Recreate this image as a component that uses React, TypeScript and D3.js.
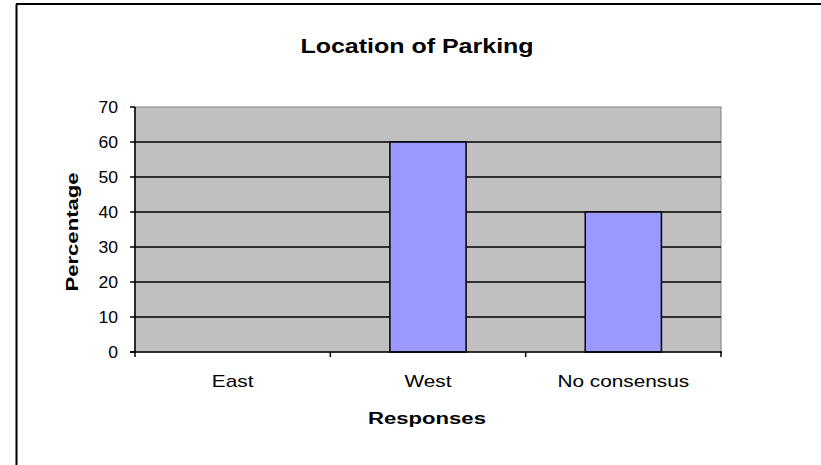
import React from "react";
import * as d3 from "d3";

const categories = ["East", "West", "No consensus"];
const values = [0, 60, 40];
const yTicks = [0, 10, 20, 30, 40, 50, 60, 70];
const title = "Location of Parking";
const xTitle = "Responses";
const yTitle = "Percentage";

const font = "'Liberation Sans', Arial, sans-serif";

function SText(props: { x: number; y: number; sx: number; size: number; bold?: boolean; anchor?: string; rotate?: number; children: React.ReactNode }) {
  const { x, y, sx, size, bold, anchor = "middle", rotate = 0, children } = props;
  return (
    <text transform={`translate(${x},${y}) rotate(${rotate}) scale(${sx},1)`} textAnchor={anchor}
      fontFamily={font} fontWeight={bold ? "bold" : "normal"} fontSize={size}>{children}</text>
  );
}

export default function App() {
  const W = 821, H = 465;
  const left = 135, right = 721, top = 107, bottom = 352;
  const x = d3.scaleBand<string>().domain(categories).range([left, right]).paddingInner(0).paddingOuter(0);
  const y = d3.scaleLinear().domain([0, 70]).range([bottom, top]);
  const barW = x.bandwidth() * 0.39;
  return (
    <svg width={W} height={H} style={{ position: "absolute", left: 0, top: 0, background: "#fff" }}>
      <line x1={16.5} y1={4} x2={16.5} y2={H} stroke="#000" strokeWidth={2} />
      <line x1={16} y1={4} x2={W} y2={4} stroke="#000" strokeWidth={2} />
      <SText x={417} y={53} sx={1.25} size={20} bold>{title}</SText>
      <rect x={left} y={top} width={right - left} height={bottom - top} fill="#C0C0C0" stroke="#808080" strokeWidth={1} />
      {yTicks.filter(t => t > 0 && t < 70).map(t => (
        <line key={t} x1={left} x2={right} y1={y(t)} y2={y(t)} stroke="#000" strokeWidth={1.5} />
      ))}
      {categories.map((c, i) => values[i] > 0 ? (
        <rect key={c} x={x(c)! + (x.bandwidth() - barW) / 2} y={y(values[i])} width={barW} height={bottom - y(values[i])}
          fill="#9999FF" stroke="#000" strokeWidth={1.5} />
      ) : null)}
      <line x1={left} x2={left} y1={top} y2={bottom + 1} stroke="#000" strokeWidth={1.5} />
      <line x1={left - 5} x2={right + 1} y1={bottom} y2={bottom} stroke="#000" strokeWidth={1.5} />
      {yTicks.map(t => (
        <g key={t}>
          <line x1={left - 5} x2={left} y1={y(t)} y2={y(t)} stroke="#000" strokeWidth={1.5} />
          <SText x={left - 17} y={y(t) + 6} sx={1.1} size={16} anchor="end">{t}</SText>
        </g>
      ))}
      {[...categories.map(c => x(c)!), right].map((v, i) => (
        <line key={i} x1={v} x2={v} y1={bottom} y2={bottom + 5} stroke="#000" strokeWidth={1.5} />
      ))}
      {categories.map(c => (
        <SText key={c} x={x(c)! + x.bandwidth() / 2} y={387} sx={1.3} size={16}>{c}</SText>
      ))}
      <SText x={427} y={424} sx={1.3} size={17} bold>{xTitle}</SText>
      <SText x={78} y={232} sx={1.3} size={17} bold rotate={-90}>{yTitle}</SText>
    </svg>
  );
}
